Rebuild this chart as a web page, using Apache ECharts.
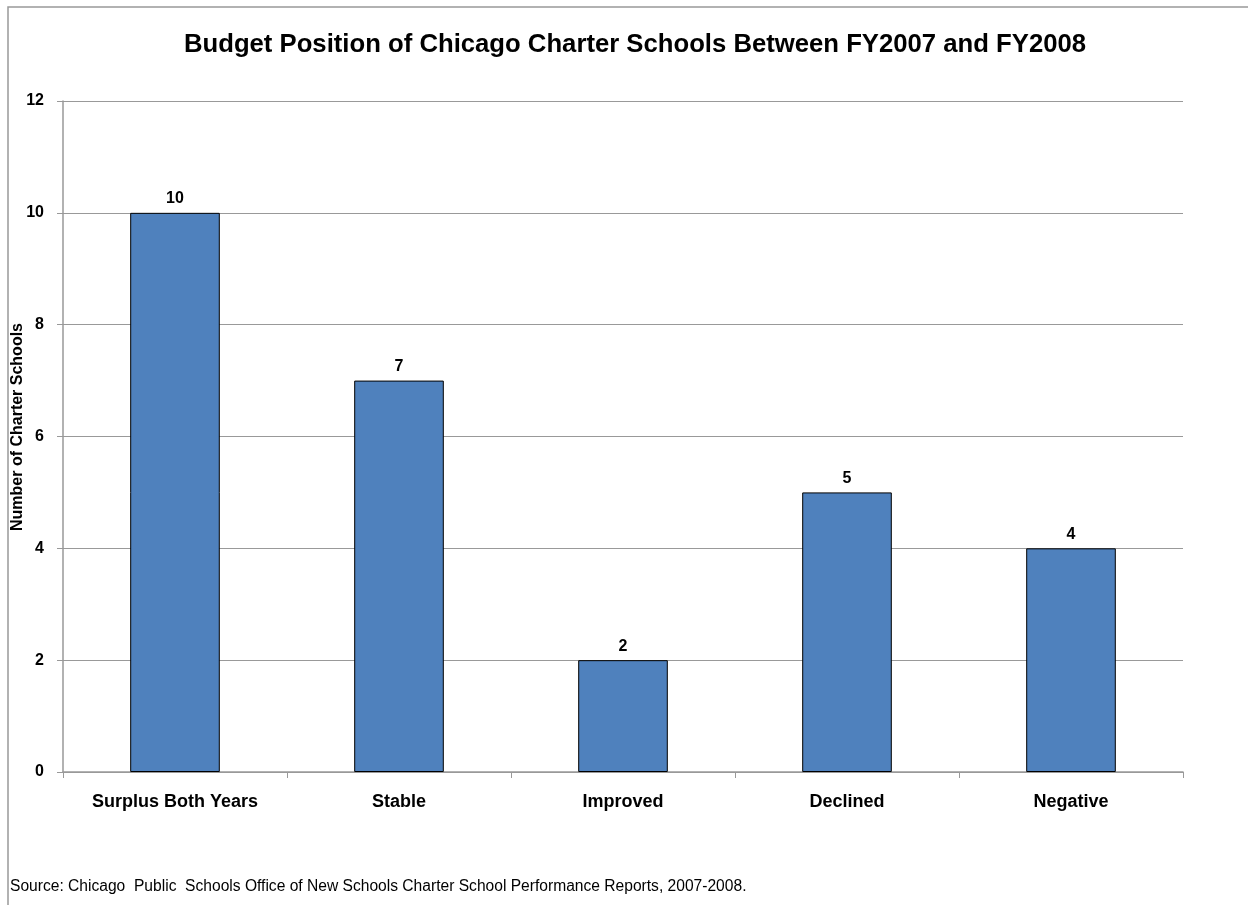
<!DOCTYPE html>
<html><head><meta charset="utf-8">
<script src="https://cdn.jsdelivr.net/npm/echarts@6/dist/echarts.min.js"></script>
<style>html,body{margin:0;padding:0;background:#fff}#c{width:1248px;height:905px}</style>
</head><body><div id="c"></div>
<script>
const categories = ["Surplus Both Years", "Stable", "Improved", "Declined", "Negative"];
const values = [10, 7, 2, 5, 4];
const titleText = "Budget Position of Chicago Charter Schools Between FY2007 and FY2008";
const yAxisName = "Number of Charter Schools";
const sourceText = "Source: Chicago  Public  Schools Office of New Schools Charter School Performance Reports, 2007-2008.";

const chart = echarts.init(document.getElementById('c'), null, {renderer: 'canvas'});
const FONT = '"Liberation Sans", Arial, sans-serif';
chart.setOption({
  animation: false,
  backgroundColor: '#fff',
  graphic: [
    {type: 'rect', shape: {x: 8, y: 7, width: 1300, height: 1000}, style: {fill: 'none', stroke: '#999', lineWidth: 1.5}, silent: true, z: -1},
    {type: 'text', x: 10, y: 887, style: {text: sourceText, font: '15.6px ' + FONT, fill: '#000', textVerticalAlign: 'middle'}},
    {type: 'text', x: 18, y: 427, rotation: Math.PI / 2, style: {text: yAxisName, font: 'bold 16px ' + FONT, fill: '#000', textAlign: 'center', textVerticalAlign: 'middle'}}
  ],
  title: {
    text: titleText, left: 630, top: 27, textAlign: 'center',
    textStyle: {fontFamily: FONT, fontSize: 25.7, fontWeight: 'bold', color: '#000'}
  },
  grid: {left: 63, right: 65, top: 101, bottom: 133, containLabel: false, outerBoundsMode: 'none'},
  xAxis: {
    type: 'category', data: categories,
    axisLine: {lineStyle: {color: '#999', width: 1.5}},
    axisTick: {show: true, alignWithLabel: false, length: 6, lineStyle: {color: '#999'}},
    axisLabel: {fontFamily: FONT, fontSize: 18, fontWeight: 'bold', color: '#000', margin: 21}
  },
  yAxis: {
    type: 'value', min: 0, max: 12, interval: 2,
    axisLine: {show: true, lineStyle: {color: '#999', width: 1.5}},
    axisTick: {show: true, length: 6, lineStyle: {color: '#999'}},
    axisLabel: {fontFamily: FONT, fontSize: 16, fontWeight: 'bold', color: '#000', margin: 19},
    splitLine: {lineStyle: {color: '#999', width: 1}}
  },
  series: [{
    type: 'bar', data: values, barWidth: '40%',
    itemStyle: {color: '#4F81BD', borderColor: '#000', borderWidth: 1},
    label: {show: true, position: 'top', distance: 6, fontFamily: FONT, fontSize: 16, fontWeight: 'bold', color: '#000'}
  }]
});
</script></body></html>
